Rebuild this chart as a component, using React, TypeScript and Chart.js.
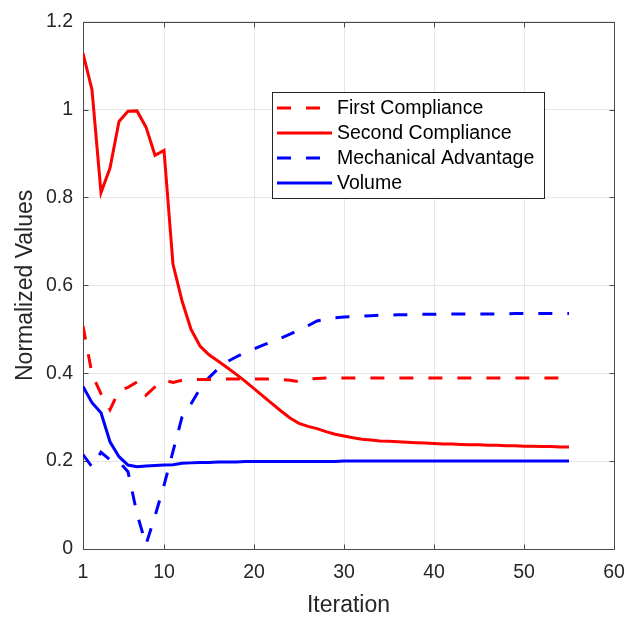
import React, { useEffect, useRef } from "react";
import { Chart, registerables } from "chart.js";

Chart.register(...registerables);

const iterations = [
  1, 2, 3, 4, 5, 6, 7, 8, 9, 10, 11, 12, 13, 14, 15, 16, 17, 18, 19, 20,
  21, 22, 23, 24, 25, 26, 27, 28, 29, 30, 31, 32, 33, 34, 35, 36, 37, 38, 39, 40,
  41, 42, 43, 44, 45, 46, 47, 48, 49, 50, 51, 52, 53, 54, 55,
];

const firstCompliance = [
  0.508, 0.398, 0.353, 0.317, 0.36, 0.368, 0.38, 0.35, 0.369, 0.384,
  0.379, 0.384, 0.385, 0.386, 0.386, 0.386, 0.387, 0.387, 0.387, 0.387,
  0.387, 0.387, 0.386, 0.384, 0.381, 0.387, 0.388, 0.389, 0.389, 0.389,
  0.389, 0.389, 0.389, 0.389, 0.389, 0.389, 0.389, 0.389, 0.389, 0.389,
  0.389, 0.389, 0.389, 0.389, 0.389, 0.389, 0.389, 0.389, 0.389, 0.389,
  0.389, 0.389, 0.389, 0.389, 0.389,
];

const secondCompliance = [
  1.128, 1.045, 0.811, 0.867, 0.973, 0.996, 0.997, 0.96, 0.896, 0.907,
  0.648, 0.565, 0.5, 0.462, 0.442, 0.428, 0.413, 0.398, 0.382, 0.365,
  0.348, 0.331, 0.314, 0.298, 0.286, 0.279, 0.274, 0.267, 0.261, 0.257,
  0.253, 0.25, 0.248, 0.246, 0.245, 0.244, 0.243, 0.242, 0.241, 0.24,
  0.239, 0.239, 0.238, 0.237, 0.237, 0.236, 0.236, 0.235, 0.235, 0.234,
  0.234, 0.233, 0.233, 0.232, 0.232,
];

const mechanicalAdvantage = [
  0.215, 0.187, 0.22, 0.203, 0.199, 0.176, 0.08, 0.01, 0.075, 0.145,
  0.222, 0.3, 0.33, 0.365, 0.39, 0.41, 0.426, 0.437, 0.447, 0.455,
  0.464, 0.472, 0.48, 0.489, 0.498, 0.508, 0.519, 0.523, 0.526, 0.528,
  0.529, 0.53, 0.531, 0.532, 0.532, 0.533, 0.533, 0.534, 0.534, 0.534,
  0.535, 0.535, 0.535, 0.535, 0.535, 0.535, 0.535, 0.535, 0.536, 0.536,
  0.536, 0.536, 0.536, 0.536, 0.536,
];

const volume = [
  0.37, 0.333, 0.31, 0.244, 0.21, 0.191, 0.187, 0.189, 0.19, 0.191,
  0.192, 0.195, 0.196, 0.197, 0.197, 0.198, 0.198, 0.198, 0.199, 0.199,
  0.199, 0.199, 0.199, 0.199, 0.199, 0.199, 0.199, 0.199, 0.199, 0.2,
  0.2, 0.2, 0.2, 0.2, 0.2, 0.2, 0.2, 0.2, 0.2, 0.2,
  0.2, 0.2, 0.2, 0.2, 0.2, 0.2, 0.2, 0.2, 0.2, 0.2,
  0.2, 0.2, 0.2, 0.2, 0.2,
];

const seriesNames = ["First Compliance", "Second Compliance", "Mechanical Advantage", "Volume"];
const xTicks = [1, 10, 20, 30, 40, 50, 60];
const yTicks = [0, 0.2, 0.4, 0.6, 0.8, 1, 1.2];
const xTitle = "Iteration";
const yTitle = "Normalized Values";

const FONT = '"Liberation Sans", Arial, Helvetica, sans-serif';
const TEXT = "#262626";
const AXIS = "#4a4a4a";
const GRID = "#e6e6e6";
const RED = "#ff0000";
const BLUE = "#0000ff";
const DASH = [14, 15];
const LW = 3;

const framePlugin = {
  id: "frame",
  beforeDatasetsDraw(chart: any) {
    const { ctx, chartArea: a, scales } = chart;
    ctx.save();
    ctx.strokeStyle = AXIS;
    ctx.lineWidth = 1;
    ctx.setLineDash([]);
    const l = Math.round(a.left) + 0.5;
    const r = Math.round(a.right) + 0.5;
    const t = Math.round(a.top) + 0.5;
    const b = Math.round(a.bottom) + 0.5;
    ctx.strokeRect(l, t, r - l, b - t);
    const tl = 5;
    ctx.beginPath();
    for (const v of xTicks) {
      const x = Math.round(scales.x.getPixelForValue(v)) + 0.5;
      ctx.moveTo(x, b);
      ctx.lineTo(x, b - tl);
      ctx.moveTo(x, t);
      ctx.lineTo(x, t + tl);
    }
    for (const v of yTicks) {
      const y = Math.round(scales.y.getPixelForValue(v)) + 0.5;
      ctx.moveTo(l, y);
      ctx.lineTo(l + tl, y);
      ctx.moveTo(r, y);
      ctx.lineTo(r - tl, y);
    }
    ctx.stroke();
    ctx.restore();
  },
};

const legendPlugin = {
  id: "boxLegend",
  afterDatasetsDraw(chart: any) {
    const { ctx } = chart;
    const box = { left: 272.5, top: 92.5, right: 544.5, bottom: 198.5 };
    const rows = [108, 133, 158, 183];
    ctx.save();
    ctx.fillStyle = "#ffffff";
    ctx.fillRect(box.left, box.top, box.right - box.left, box.bottom - box.top);
    ctx.strokeStyle = TEXT;
    ctx.lineWidth = 1;
    ctx.setLineDash([]);
    ctx.strokeRect(box.left, box.top, box.right - box.left, box.bottom - box.top);
    chart.data.datasets.forEach((ds: any, i: number) => {
      const y = rows[i];
      ctx.beginPath();
      ctx.strokeStyle = ds.borderColor;
      ctx.lineWidth = ds.borderWidth;
      ctx.setLineDash(ds.borderDash || []);
      ctx.moveTo(277, y);
      ctx.lineTo(332, y);
      ctx.stroke();
      ctx.setLineDash([]);
      ctx.fillStyle = "#000000";
      ctx.font = `19.5px ${FONT}`;
      ctx.textBaseline = "middle";
      ctx.textAlign = "left";
      ctx.fillText(ds.label, 337, y + 1);
    });
    ctx.restore();
  },
};

function toPoints(values: number[]) {
  return iterations.map((it, i) => ({ x: it, y: values[i] }));
}

export default function App() {
  const canvasRef = useRef<HTMLCanvasElement | null>(null);

  useEffect(() => {
    document.body.style.margin = "0";
    const canvas = canvasRef.current;
    if (!canvas) return;
    const chart = new Chart(canvas, {
      type: "line",
      data: {
        datasets: [
          {
            label: seriesNames[0],
            data: toPoints(firstCompliance),
            borderColor: RED,
            borderWidth: LW,
            borderDash: DASH,
            pointRadius: 0,
            fill: false,
            tension: 0,
          },
          {
            label: seriesNames[1],
            data: toPoints(secondCompliance),
            borderColor: RED,
            borderWidth: LW,
            pointRadius: 0,
            fill: false,
            tension: 0,
          },
          {
            label: seriesNames[2],
            data: toPoints(mechanicalAdvantage),
            borderColor: BLUE,
            borderWidth: LW,
            borderDash: DASH,
            pointRadius: 0,
            fill: false,
            tension: 0,
          },
          {
            label: seriesNames[3],
            data: toPoints(volume),
            borderColor: BLUE,
            borderWidth: LW,
            pointRadius: 0,
            fill: false,
            tension: 0,
          },
        ] as any,
      },
      options: {
        responsive: false,
        animation: false,
        devicePixelRatio: 1,
        layout: { padding: { top: 20, right: 24, bottom: 0, left: 0 } },
        plugins: {
          legend: { display: false },
          tooltip: { enabled: false },
        },
        scales: {
          x: {
            type: "linear",
            min: 1,
            max: 60,
            afterBuildTicks: (scale: any) => {
              scale.ticks = xTicks.map((v) => ({ value: v }));
            },
            afterFit: (scale: any) => {
              scale.height = 68;
            },
            grid: { color: GRID, lineWidth: 1, drawTicks: false },
            border: { display: false },
            ticks: {
              color: TEXT,
              font: { family: FONT, size: 19.5 },
              padding: 12,
              maxRotation: 0,
              autoSkip: false,
              callback: (v: any) => String(v),
            },
            title: {
              display: true,
              text: xTitle,
              color: TEXT,
              font: { family: FONT, size: 23, lineHeight: 1.0 },
              padding: { top: 0, bottom: 0 },
            },
          },
          y: {
            type: "linear",
            min: 0,
            max: 1.2,
            afterBuildTicks: (scale: any) => {
              scale.ticks = yTicks.map((v) => ({ value: v }));
            },
            afterFit: (scale: any) => {
              scale.width = 83;
            },
            grid: { color: GRID, lineWidth: 1, drawTicks: false },
            border: { display: false },
            ticks: {
              color: TEXT,
              font: { family: FONT, size: 19.5 },
              padding: 10,
              autoSkip: false,
              callback: (v: any) => String(Math.round(v * 10) / 10),
            },
            title: {
              display: true,
              text: yTitle,
              color: TEXT,
              font: { family: FONT, size: 23, lineHeight: 1.0 },
              padding: { top: 14, bottom: 0 },
            },
          },
        },
      } as any,
      plugins: [framePlugin, legendPlugin],
    });
    return () => chart.destroy();
  }, []);

  return (
    <div style={{ position: "absolute", left: 0, top: 0, width: 638, height: 617, background: "#fff" }}>
      <canvas ref={canvasRef} width={638} height={617} />
    </div>
  );
}
